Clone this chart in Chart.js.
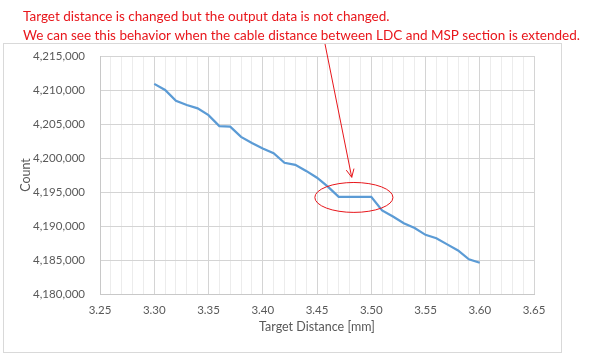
<!DOCTYPE html>
<html>
<head>
<meta charset="utf-8">
<script src="https://cdn.jsdelivr.net/npm/chart.js@4.4.1/dist/chart.umd.min.js"></script>
<style>
  html, body { margin: 0; padding: 0; background: #fff; }
  #wrap { width: 592px; height: 354px; }
</style>
</head>
<body>
<div id="wrap"><canvas id="chart"></canvas></div>
<script>
// target distance [mm]
const distances = [3.30, 3.31, 3.32, 3.33, 3.34, 3.35, 3.36, 3.37, 3.38, 3.39,
                   3.40, 3.41, 3.42, 3.43, 3.44, 3.45, 3.46, 3.47, 3.48, 3.49,
                   3.50, 3.51, 3.52, 3.53, 3.54, 3.55, 3.56, 3.57, 3.58, 3.59, 3.60];
// sensor count
const counts = [4210900, 4210000, 4208400, 4207800, 4207300, 4206300, 4204700, 4204600, 4203100, 4202200,
                4201400, 4200700, 4199300, 4199000, 4198100, 4197100, 4195800, 4194300, 4194300, 4194300,
                4194300, 4192300, 4191400, 4190400, 4189700, 4188700, 4188200, 4187300, 4186400, 4185100, 4184600];

const noteLines = [
    'Target distance is changed but the output data is not changed.',
    'We can see this behavior when the cable distance between LDC and MSP section is extended.'
];

// callout in data units
const highlight = { x: 3.484, y: 4194200, rx: 0.036, ry: 2200 };
const arrow = { x0: 3.4574, y0: 4216760, x1: 3.482, y1: 4197160 };

const RED = '#e8161b';

const annotate = {
    id: 'annotate',
    beforeDraw(chart) {
        const ctx = chart.ctx;
        ctx.save();
        ctx.fillStyle = '#fff';
        ctx.fillRect(0, 0, chart.width, chart.height);
        ctx.strokeStyle = '#d9d9d9';
        ctx.lineWidth = 1;
        ctx.strokeRect(3.5, 43.5, 558, 309);
        ctx.restore();
    },
    afterDatasetsDraw(chart) {
        const ctx = chart.ctx;
        const xs = chart.scales.x, ys = chart.scales.y;
        ctx.save();
        ctx.strokeStyle = RED;
        ctx.lineWidth = 1;

        // ellipse round the flat part
        const cx = xs.getPixelForValue(highlight.x);
        const cy = ys.getPixelForValue(highlight.y);
        const rx = xs.getPixelForValue(highlight.x + highlight.rx) - cx;
        const ry = cy - ys.getPixelForValue(highlight.y + highlight.ry);
        ctx.beginPath();
        ctx.ellipse(cx, cy, rx, ry, 0, 0, Math.PI * 2);
        ctx.stroke();

        // arrow from the note
        const ax0 = xs.getPixelForValue(arrow.x0), ay0 = ys.getPixelForValue(arrow.y0);
        const ax1 = xs.getPixelForValue(arrow.x1), ay1 = ys.getPixelForValue(arrow.y1);
        ctx.beginPath();
        ctx.moveTo(ax0, ay0);
        ctx.lineTo(ax1, ay1);
        const ang = Math.atan2(ay1 - ay0, ax1 - ax0);
        const len = 9;
        ctx.moveTo(ax1 - len * Math.cos(ang - 0.45), ay1 - len * Math.sin(ang - 0.45));
        ctx.lineTo(ax1, ay1);
        ctx.lineTo(ax1 - len * Math.cos(ang + 0.45), ay1 - len * Math.sin(ang + 0.45));
        ctx.stroke();

        // note text
        ctx.fillStyle = RED;
        ctx.font = '13.5px Lato';
        ctx.textBaseline = 'alphabetic';
        ctx.fillText(noteLines[0], 23, 21, 371);
        ctx.fillText(noteLines[1], 23, 40, 562);
        ctx.restore();
    }
};

new Chart(document.getElementById('chart'), {
    type: 'line',
    data: {
        datasets: [{
            data: distances.map((d, i) => ({ x: d, y: counts[i] })),
            borderColor: '#5b9bd5',
            borderWidth: 2.25,
            pointRadius: 0,
            tension: 0,
            fill: false
        }]
    },
    options: {
        responsive: true,
        maintainAspectRatio: false,
        animation: false,
        layout: { padding: { top: 56, right: 58, left: 0, bottom: 0 } },
        plugins: {
            legend: { display: false },
            tooltip: { enabled: false }
        },
        scales: {
            x: {
                type: 'linear',
                min: 3.25,
                max: 3.65,
                afterFit: s => { s.height = 60; },
                border: { color: '#c8c8c8' },
                grid: {
                    drawTicks: false,
                    color: c => (Math.round(c.tick.value * 100) % 5 === 0) ? '#d4d4d4' : '#ececec'
                },
                ticks: {
                    stepSize: 0.01,
                    autoSkip: false,
                    maxRotation: 0,
                    padding: 9,
                    color: '#595959',
                    font: { family: 'Lato', size: 11.5 },
                    callback: v => (Math.round(v * 100) % 5 === 0) ? v.toFixed(2) : ''
                },
                title: {
                    display: true,
                    text: 'Target Distance [mm]',
                    color: '#595959',
                    font: { family: 'Lato', size: 12.5 },
                    padding: { top: 0, bottom: 20 }
                }
            },
            y: {
                min: 4180000,
                max: 4215000,
                afterFit: s => { s.width = 100; },
                border: { color: '#c8c8c8' },
                grid: { drawTicks: false, color: '#d4d4d4' },
                ticks: {
                    stepSize: 5000,
                    padding: 15,
                    color: '#595959',
                    font: { family: 'Lato', size: 11.5 },
                    callback: v => v.toLocaleString('en-US')
                },
                title: {
                    display: true,
                    text: 'Count',
                    color: '#595959',
                    font: { family: 'Lato', size: 12.5 },
                    padding: { top: 18, bottom: 0 }
                }
            }
        }
    },
    plugins: [annotate]
});
</script>
</body>
</html>
